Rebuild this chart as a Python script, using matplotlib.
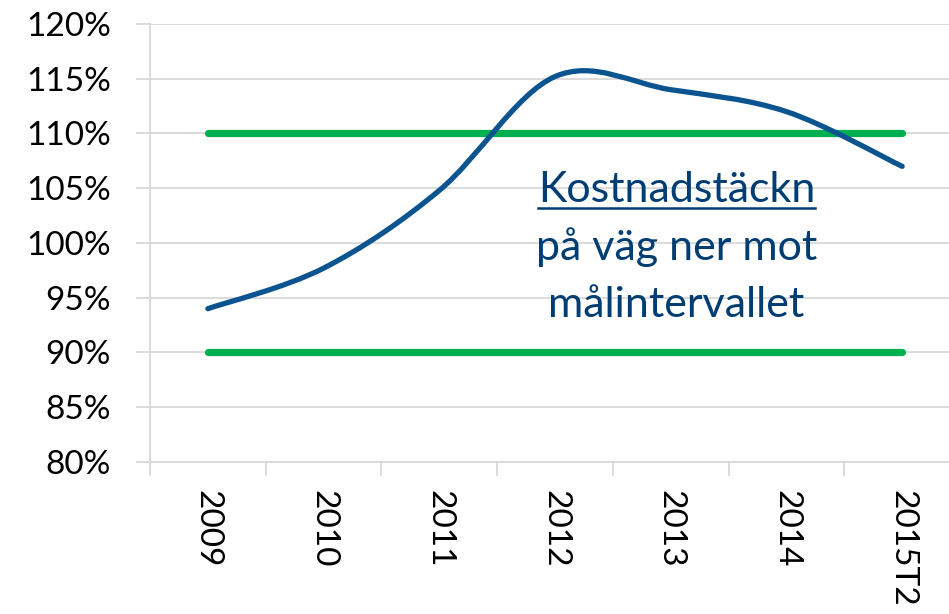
import matplotlib.pyplot as plt
import numpy as np
from matplotlib.path import Path
from matplotlib.patches import PathPatch
from matplotlib.ticker import FixedLocator

# data
years = ['2009', '2010', '2011', '2012', '2013', '2014', '2015T2']
coverage = [94.0, 97.7, 104.8, 115.2, 114.0, 112.0, 107.0]
lower_target = [90, 90, 90, 90, 90, 90, 90]
upper_target = [110, 110, 110, 110, 110, 110, 110]

blue = '#0b548f'
green = '#00b050'
navy = '#003d73'
plt.rcParams['font.family'] = ['Lato', 'DejaVu Sans']


def smooth_path(xs, ys):
    # Excel-like smoothed line: cubic bezier segments through every point
    pts = np.column_stack([xs, ys]).astype(float)
    n = len(pts)
    verts = [pts[0]]
    codes = [Path.MOVETO]
    for i in range(n - 1):
        p0 = pts[i - 1] if i > 0 else pts[i]
        p1 = pts[i]
        p2 = pts[i + 1]
        p3 = pts[i + 2] if i + 2 < n else pts[i + 1]
        c1 = p1 + (p2 - p0) / 6
        c2 = p2 - (p3 - p1) / 6
        verts += [c1, c2, p2]
        codes += [Path.CURVE4] * 3
    return Path(verts, codes)


fig = plt.figure(figsize=(9.49, 6.14), dpi=100)
ax = fig.add_axes([150 / 949, 152 / 614, 810 / 949, 438 / 614])

x = np.arange(len(years))
ax.plot(x, lower_target, color=green, lw=5.2, solid_capstyle='round', zorder=3)
ax.plot(x, upper_target, color=green, lw=5.2, solid_capstyle='round', zorder=3)
ax.add_patch(PathPatch(smooth_path(x, coverage), facecolor='none', edgecolor=blue,
                       lw=3.8, capstyle='round', zorder=4))

ax.set_xlim(-0.5, len(years) - 0.5)
ax.set_ylim(80, 120)
ax.set_yticks(np.arange(80, 121, 5))
ax.set_yticklabels([f'{v}%' for v in range(80, 121, 5)])
ax.yaxis.grid(True, color='#d9d9d9', lw=1.3)
ax.set_axisbelow(True)
ax.tick_params(axis='y', length=10, width=1.3, color='#d9d9d9', labelsize=24, pad=18)

ax.set_xticks(x)
ax.set_xticklabels(years, rotation=-90, va='top', ha='center')
ax.xaxis.set_minor_locator(FixedLocator(np.arange(-0.5, len(years), 1)))
ax.tick_params(axis='x', which='major', length=0, labelsize=24, pad=20)
ax.tick_params(axis='x', which='minor', length=10, width=1.3, color='#d9d9d9')

for s in ['top', 'right']:
    ax.spines[s].set_visible(False)
for s in ['left', 'bottom']:
    ax.spines[s].set_color('#d9d9d9')
    ax.spines[s].set_linewidth(1.3)

t = ax.text(4.05, 104.8, 'Kostnadstäckn', color=navy, fontsize=31, ha='center', va='center')
ax.text(4.05, 99.6, 'på väg ner mot', color=navy, fontsize=31, ha='center', va='center')
ax.text(4.05, 94.3, 'målintervallet', color=navy, fontsize=31, ha='center', va='center')
# underline for the first line
fig.canvas.draw()
bb = t.get_window_extent().transformed(ax.transData.inverted())
ax.plot([bb.x0, bb.x1], [bb.y0 + 0.1, bb.y0 + 0.1], color=navy, lw=1.8)

fig.savefig('out.png', dpi=100)
